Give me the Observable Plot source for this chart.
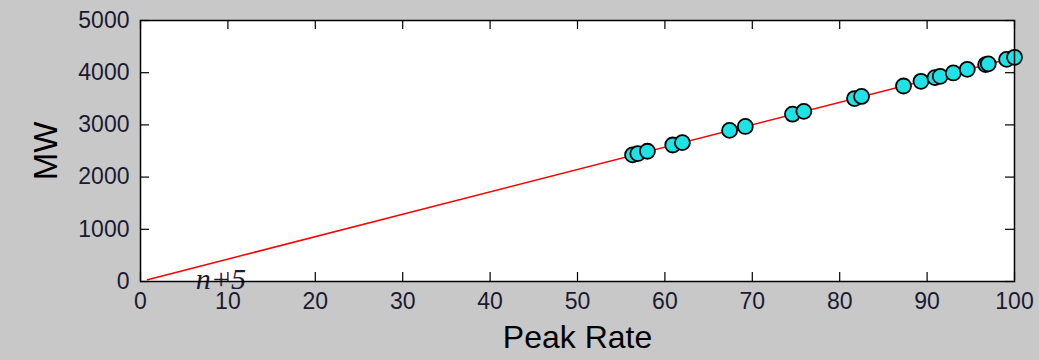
<!DOCTYPE html>
<html>
<head>
<meta charset="utf-8">
<script src="https://cdn.jsdelivr.net/npm/d3@7"></script>
<script src="https://cdn.jsdelivr.net/npm/@observablehq/plot@0.6"></script>
<style>
  html, body { margin: 0; padding: 0; background: #c8c8c8; }
</style>
</head>
<body>
<div id="chart"></div>
<script>
// Scatter points (Peak Rate, MW)
const peakRate = [56.3, 56.9, 58.0, 60.9, 62.0, 67.4, 69.2, 74.6, 75.9, 81.7, 82.5, 87.3, 89.3, 90.9, 91.5, 93.0, 94.6, 96.7, 97.0, 99.1, 100.0];
const mw       = [2425, 2450, 2495, 2615, 2660, 2895, 2970, 3205, 3260, 3505, 3545, 3745, 3835, 3905, 3930, 3995, 4065, 4155, 4170, 4255, 4295];
// Fitted red line endpoints
const lineX = [0.8, 100];
const lineY = [35, 4290];
const xTicks = [0, 10, 20, 30, 40, 50, 60, 70, 80, 90, 100];
const yTicks = [0, 1000, 2000, 3000, 4000, 5000];
const annotation = "n+5";

const points = peakRate.map((x, i) => ({x, y: mw[i]}));
const line = lineX.map((x, i) => ({x, y: lineY[i]}));

const innerH = 360 - 20 - 79;
const innerW = 1039 - 140 - 25;
const tickLen = 9;

const chart = Plot.plot({
  width: 1039,
  height: 360,
  marginLeft: 140,
  marginRight: 25,
  marginTop: 20,
  marginBottom: 79,
  style: {background: "#c8c8c8", fontFamily: "Liberation Sans, Arial, sans-serif", color: "black"},
  x: {domain: [0, 100]},
  y: {domain: [0, 5000]},
  marks: [
    Plot.frame({fill: "white"}),
    // inward ticks on all four sides
    Plot.ruleX(xTicks, {x: d => d, insetTop: innerH - tickLen, stroke: "black", strokeWidth: 1.2}),
    Plot.ruleX(xTicks, {x: d => d, insetBottom: innerH - tickLen, stroke: "black", strokeWidth: 1.2}),
    Plot.ruleY(yTicks, {y: d => d, insetRight: innerW - tickLen, stroke: "black", strokeWidth: 1.2}),
    Plot.ruleY(yTicks, {y: d => d, insetLeft: innerW - tickLen, stroke: "black", strokeWidth: 1.2}),
    Plot.axisX({ticks: xTicks, tickSize: 0, tickPadding: 11, fontSize: 23, label: null, tickFormat: d3.format("d"), fill: "#1a1a30"}),
    Plot.axisY({ticks: yTicks, tickSize: 0, tickPadding: 11, fontSize: 23, label: null, tickFormat: d3.format("d"), fill: "#1a1a30"}),
    Plot.line(line, {x: "x", y: "y", stroke: "red", strokeWidth: 1.5}),
    Plot.dot(points, {x: "x", y: "y", r: 7.5, fill: "#1ee3e6", stroke: "black", strokeWidth: 1.8}),
    Plot.text([annotation], {x: 9.2, y: 0, text: d => d, fontFamily: "Liberation Serif, Times New Roman, serif", fontStyle: "italic", fontSize: 30, lineAnchor: "bottom", dy: 7, letterSpacing: 2, fill: "#1a1a3a"}),
    Plot.frame({stroke: "black", strokeWidth: 1.5}),
    Plot.text(["Peak Rate"], {frameAnchor: "bottom", text: d => d, dy: 56, fontSize: 32, lineAnchor: "middle", textAnchor: "middle"}),
    Plot.text(["MW"], {frameAnchor: "left", text: d => d, dx: -94, rotate: -90, fontSize: 33, textAnchor: "middle", lineAnchor: "middle"})
  ]
});
document.getElementById("chart").appendChild(chart);
</script>
</body>
</html>
